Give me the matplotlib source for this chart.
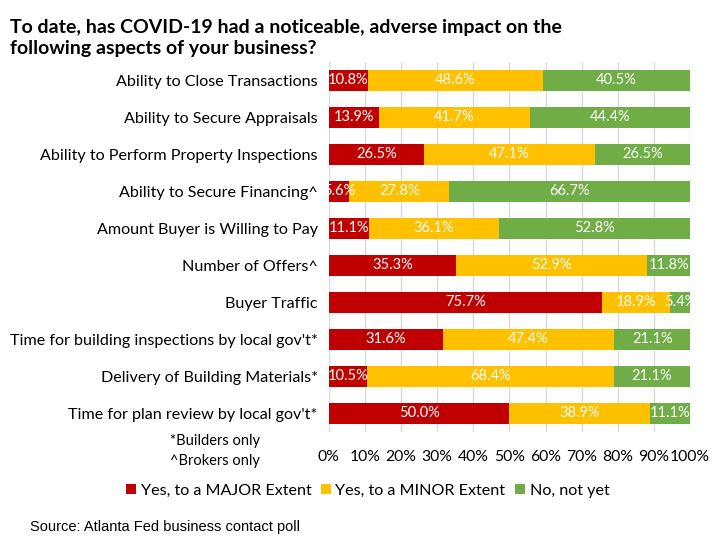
import matplotlib
matplotlib.use("Agg")
import matplotlib.pyplot as plt
import numpy as np

categories = [
    "Ability to Close Transactions",
    "Ability to Secure Appraisals",
    "Ability to Perform Property Inspections",
    "Ability to Secure Financing^",
    "Amount Buyer is Willing to Pay",
    "Number of Offers^",
    "Buyer Traffic",
    "Time for building inspections by local gov't*",
    "Delivery of Building Materials*",
    "Time for plan review by local gov't*",
]
major = [10.8, 13.9, 26.5, 5.6, 11.1, 35.3, 75.7, 31.6, 10.5, 50.0]
minor = [48.6, 41.7, 47.1, 27.8, 36.1, 52.9, 18.9, 47.4, 68.4, 38.9]
notyet = [40.5, 44.4, 26.5, 66.7, 52.8, 11.8, 5.4, 21.1, 21.1, 11.1]
series_names = ["Yes, to a MAJOR Extent", "Yes, to a MINOR Extent", "No, not yet"]
colors = ["#C00000", "#FFC000", "#70AD47"]
xticks = [0, 10, 20, 30, 40, 50, 60, 70, 80, 90, 100]
xticklabels = [f"{t}%" for t in xticks]

FONT = "Lato"
plt.rcParams['font.family'] = [FONT, 'DejaVu Sans']

fig = plt.figure(figsize=(7.21, 5.45), dpi=100)
ax = fig.add_axes([0.456, 0.208, 0.501, 0.679])

y = np.arange(len(categories))
left = np.zeros(len(categories))
for vals, name, c in zip([major, minor, notyet], series_names, colors):
    vals = np.array(vals)
    ax.barh(y, vals, left=left, height=0.57, color=c, label=name, zorder=3)
    for yi, l, v in zip(y, left, vals):
        ax.text(l + v / 2, yi, f"{v:.1f}%", ha="center", va="center",
                color="white", fontsize=10.5, zorder=4)
    left = left + vals

ax.set_xlim(0, 100)
ax.set_ylim(len(categories) - 0.5, -0.5)
ax.set_yticks(y)
ax.set_yticklabels(categories, fontsize=11.6)
ax.set_xticks(xticks)
ax.set_xticklabels(xticklabels, fontsize=11.3)
ax.tick_params(length=0, pad=8)
ax.tick_params(axis='x', pad=13)
ax.grid(axis='x', color="#D9D9D9", linewidth=1, zorder=0)
for s in ax.spines.values():
    s.set_visible(False)

fig.text(0.014, 0.965, "To date, has COVID-19 had a noticeable, adverse impact on the\nfollowing aspects of your business?",
         fontsize=14, fontweight="bold", va="top", ha="left", linespacing=1.3)

fig.text(0.298, 0.191, "*Builders only", fontsize=10.5, ha="center", va="center")
fig.text(0.298, 0.155, "^Brokers only", fontsize=10.5, ha="center", va="center")

handles, labels = ax.get_legend_handles_labels()
fig.legend(handles, labels, loc="center", bbox_to_anchor=(0.51, 0.099), ncol=3,
           frameon=False, fontsize=11.6, handlelength=0.6, handleheight=0.6,
           handletextpad=0.3, columnspacing=0.6)

fig.text(0.042, 0.033, "Source: Atlanta Fed business contact poll", fontsize=10.5,
         family="Liberation Sans", ha="left", va="center")

fig.savefig("out.png", dpi=100)
